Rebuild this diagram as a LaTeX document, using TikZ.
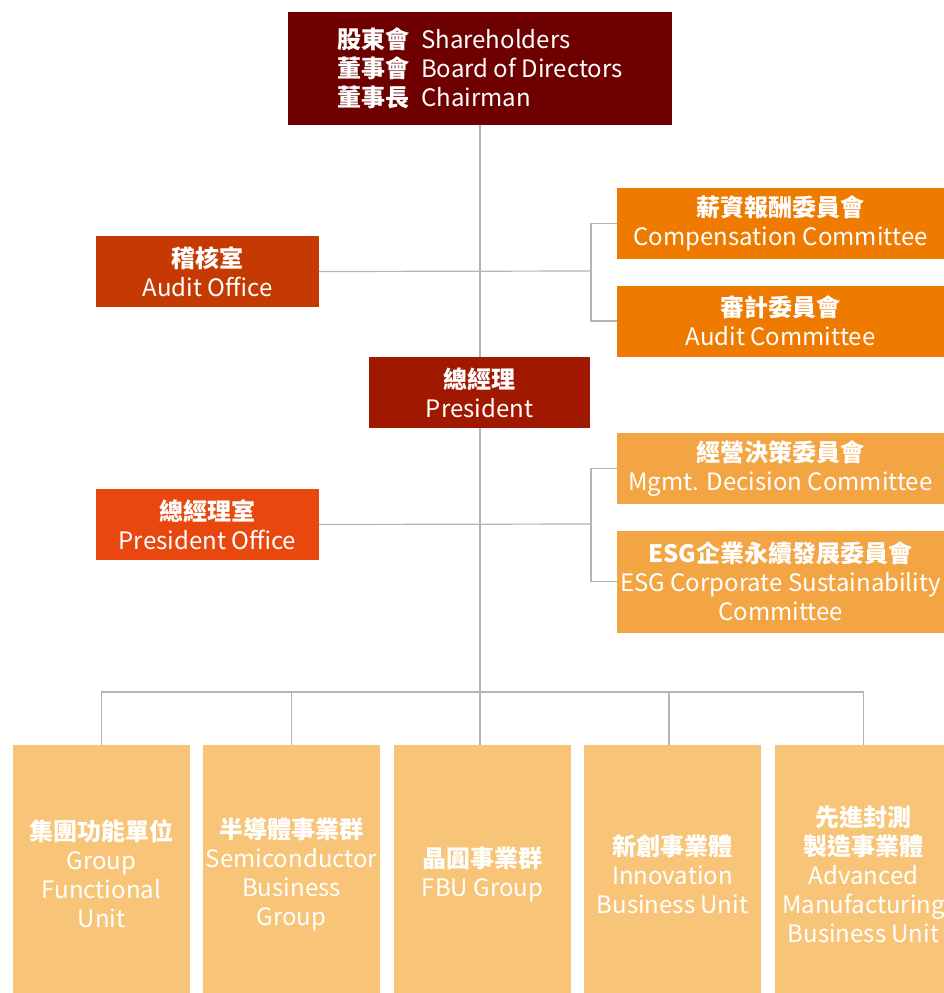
\documentclass[tikz,border=0pt]{standalone}
\usepackage{fontspec}
\setmainfont{Noto Sans CJK TC}
\usetikzlibrary{positioning,backgrounds}

\definecolor{boardred}{HTML}{6F0000}
\definecolor{presred}{HTML}{A01800}
\definecolor{auditorange}{HTML}{C53A03}
\definecolor{officeorange}{HTML}{E8480E}
\definecolor{commorange}{HTML}{EE7A00}
\definecolor{mgmtorange}{HTML}{F2A542}
\definecolor{unityellow}{HTML}{F7C478}
\definecolor{linkgray}{HTML}{B4B4B4}

\tikzset{
  orgbox/.style={fill=#1, text=white, inner sep=0pt, align=center,
    font=\fontsize{24}{29}\selectfont},
  sidebox/.style={orgbox=#1, minimum width=223pt, minimum height=71pt},
  commbox/.style={orgbox=#1, minimum width=327pt, minimum height=71pt},
  unitbox/.style={orgbox=unityellow, minimum width=177pt, minimum height=258pt},
  link/.style={draw=linkgray, line width=1.2pt}
}

\begin{document}
\begin{tikzpicture}[x=1pt, y=-1pt]
% Page size of the reference
\useasboundingbox (0,0) rectangle (944,993);

% Board and president
\node[orgbox=boardred, minimum width=384pt, minimum height=113pt, align=left] (board) at (480,68.5)
  {\textbf{股東會}\hspace{0.5em}Shareholders\\ \textbf{董事會}\hspace{0.5em}Board of Directors\\ \textbf{董事長}\hspace{0.5em}Chairman};
\node[orgbox=presred, minimum width=221pt, minimum height=71pt] (president) at (479.5,392.5)
  {\textbf{總經理}\\President};

% Offices on the left
\node[sidebox=auditorange] (auditoffice) at (207.5,271.5) {\textbf{稽核室}\\Audit Office};
\node[sidebox=officeorange] (presoffice) at (207.5,524.5) {\textbf{總經理室}\\President Office};

% Committees on the right
\node[commbox=commorange] (compcomm) at (780.5,223.5) {\textbf{薪資報酬委員會}\\Compensation Committee};
\node[commbox=commorange] (auditcomm) at (780.5,321) {\textbf{審計委員會}\\Audit Committee};
\node[commbox=mgmtorange] (mgmtcomm) at (780.5,468.5) {\textbf{經營決策委員會}\\Mgmt. Decision Committee};
\node[commbox=mgmtorange, minimum height=102pt] (esgcomm) at (780.5,581.5)
  {\textbf{ESG企業永續發展委員會}\\ESG Corporate Sustainability\\Committee};

% Business units (they run past the bottom edge)
\node[unitbox] (groupunit) at (101.5,874) {\textbf{集團功能單位}\\Group\\Functional\\Unit};
\node[unitbox] (semigroup) at (291.5,874) {\textbf{半導體事業群}\\Semiconductor\\Business\\Group};
\node[unitbox] (fbugroup) at (482.5,874) {\textbf{晶圓事業群}\\FBU Group};
\node[unitbox] (innounit) at (672.5,874) {\textbf{新創事業體}\\Innovation\\Business Unit};
\node[unitbox] (advunit) at (863.5,874) {\textbf{先進封測}\\\textbf{製造事業體}\\Advanced\\Manufacturing\\Business Unit};

% Junctions
\coordinate (boardjoin) at (591,271);
\coordinate (presjoin) at (591,524);
\coordinate (unitbus) at (480,692);

% Connectors
\begin{scope}[on background layer]
\draw[link] (board.south) -- (board.south |- fbugroup.north);
\draw[link] (auditoffice.east) -- (boardjoin);
\draw[link] (compcomm.west) -| (boardjoin);
\draw[link] (auditcomm.west) -| (boardjoin);
\draw[link] (presoffice.east) -- (presjoin);
\draw[link] (mgmtcomm.west) -| (presjoin);
\draw[link] (esgcomm.west) -| (presjoin);
\draw[link] (groupunit.north) |- (unitbus);
\draw[link] (semigroup.north) |- (unitbus);
\draw[link] ([xshift=-3.5pt]innounit.north) |- (unitbus);
\draw[link] (advunit.north) |- (unitbus);
\end{scope}
\end{tikzpicture}
\end{document}
